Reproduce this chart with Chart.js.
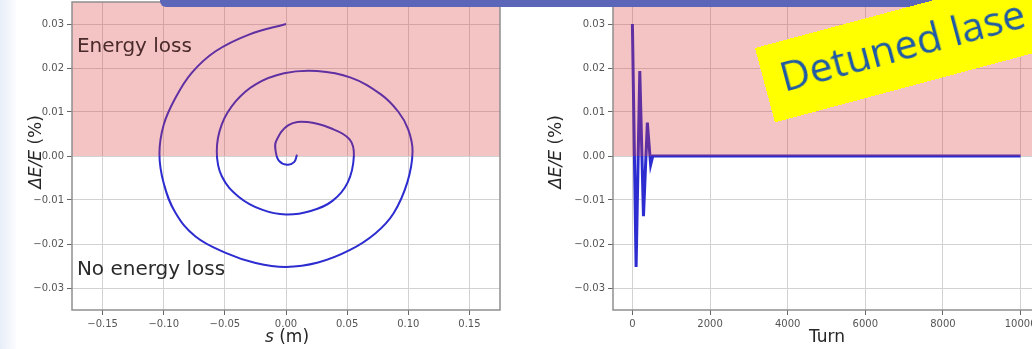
<!DOCTYPE html>
<html>
<head>
<meta charset="utf-8">
<script src="https://cdn.jsdelivr.net/npm/chart.js"></script>
<style>
    html, body { margin: 0; padding: 0; width: 1032px; height: 349px; overflow: hidden; background: #fff; }
    #strip { position: absolute; left: 0; top: 0; width: 16px; height: 349px; background: linear-gradient(to right, #e8eef8, #fbfcfe); }
    #cLeft { position: absolute; left: 0; top: 0; }
    #cRight { position: absolute; left: 516px; top: 0; }
    #bar { position: absolute; left: 160px; top: -6px; width: 900px; height: 13px; background: #5c66b8; border-radius: 6px; }
    #tag { position: absolute; left: 755px; top: 48px; width: 420px; height: 77px; background: #ffff00;
           transform-origin: 0 0; transform: rotate(-15deg); }
    #tag span { position: absolute; left: 17px; top: 14px; font: 41px/1 "Open Sans", sans-serif; color: #1f5aa6; white-space: nowrap; }
</style>
</head>
<body>
<div id="strip"></div>
<canvas id="cLeft" width="516" height="349"></canvas>
<canvas id="cRight" width="540" height="349"></canvas>
<div id="bar"></div>
<div id="tag"><span>Detuned lase</span></div>

<script>
// Longitudinal phase space spiral
const spiralS  = [0.0000, -0.0303, -0.0576, -0.0771, -0.0904, -0.1000, -0.1035, -0.1000, -0.0904, -0.0740,
                  -0.0494, -0.0248, 0.0000, 0.0262, 0.0520, 0.0730, 0.0880, 0.0992, 0.1035, 0.1000,
                  0.0920, 0.0776, 0.0530, 0.0254, -0.0016, -0.0248, -0.0412, -0.0525, -0.0566, -0.0525,
                  -0.0385, -0.0197, 0.0000, 0.0202, 0.0380, 0.0505, 0.0555, 0.0520, 0.0366, 0.0175,
                  0.0020, -0.0082, -0.0084, -0.0057, 0.0008, 0.0066, 0.0090];
const spiralDE = [0.0300, 0.0276, 0.0238, 0.0189, 0.0132, 0.0071, 0.0005, -0.0062, -0.0129, -0.0183,
                  -0.0220, -0.0243, -0.0252, -0.0242, -0.0214, -0.0176, -0.0130, -0.0060, 0.0010, 0.0060,
                  0.0100, 0.0140, 0.0178, 0.0193, 0.0188, 0.0163, 0.0124, 0.0072, 0.0011, -0.0046,
                  -0.0093, -0.0122, -0.0133, -0.0125, -0.0102, -0.0060, 0.0000, 0.0038, 0.0063, 0.0077,
                  0.0070, 0.0033, 0.0010, -0.0011, -0.0020, -0.0014, 0.0003];

// Energy deviation against turn number, right panel
const turns  = [0, 95, 190, 285, 385, 470, 525, 10000];
const turnDE = [0.0300, -0.0252, 0.0193, -0.0137, 0.0076, -0.0020, 0.0000, 0.0000];

// Tick values and labels
const yTicks      = [-0.03, -0.02, -0.01, 0, 0.01, 0.02, 0.03];
const yTickLabels = ['\u22120.03', '\u22120.02', '\u22120.01', '0.00', '0.01', '0.02', '0.03'];
const sTicks      = [-0.15, -0.10, -0.05, 0, 0.05, 0.10, 0.15];
const sTickLabels = ['\u22120.15', '\u22120.10', '\u22120.05', '0.00', '0.05', '0.10', '0.15'];
const turnTicks      = [0, 2000, 4000, 6000, 8000, 10000];
const turnTickLabels = ['0', '2000', '4000', '6000', '8000', '10000'];

const FONT = '"DejaVu Sans", sans-serif';
const LINE = '#2c2cd0';

function toPoints(xs, ys) {
    return xs.map((v, i) => ({ x: v, y: ys[i] }));
}

// draw a label made of parts with different font styles, centred on (cx, cy)
function drawMixed(ctx, parts, cx, cy, rotate) {
    ctx.save();
    ctx.translate(cx, cy);
    if (rotate) ctx.rotate(-Math.PI / 2);
    const widths = parts.map(p => { ctx.font = p.font; return ctx.measureText(p.t).width; });
    let x = -widths.reduce((a, b) => a + b, 0) / 2;
    ctx.textBaseline = 'middle';
    ctx.fillStyle = '#262626';
    parts.forEach((p, i) => { ctx.font = p.font; ctx.fillText(p.t, x, 0); x += widths[i]; });
    ctx.restore();
}

const yLabelParts = [
    { t: '\u0394E/E', font: 'italic 17px ' + FONT },
    { t: ' (%)', font: '17px ' + FONT }
];

const decor = {
    id: 'decor',
    afterDatasetsDraw(chart, args, opts) {
        const { ctx, chartArea: a, scales: { x, y } } = chart;
        ctx.save();
        // energy-loss band above zero
        const y0 = y.getPixelForValue(0);
        ctx.fillStyle = 'rgba(220, 60, 60, 0.3)';
        ctx.fillRect(a.left, a.top, a.right - a.left, y0 - a.top);
        ctx.font = '20px ' + FONT;
        (opts.notes || []).forEach(n => {
            ctx.fillStyle = n.color;
            ctx.fillText(n.text, x.getPixelForValue(n.x), y.getPixelForValue(n.y));
        });
        ctx.strokeStyle = '#8f8f8f';
        ctx.lineWidth = 1.5;
        ctx.strokeRect(a.left, a.top, a.right - a.left, a.bottom - a.top);
        ctx.restore();
    },
    afterDraw(chart, args, opts) {
        drawMixed(chart.ctx, yLabelParts, opts.yLabelX, 152, true);
        drawMixed(chart.ctx, opts.xLabel, opts.xLabelX, 338, false);
    }
};

function axis(min, max, ticks, labels, fit) {
    return {
        type: 'linear',
        min: min,
        max: max,
        afterBuildTicks: s => { s.ticks = ticks.map(v => ({ value: v })); },
        afterFit: fit,
        ticks: {
            autoSkip: false,
            maxRotation: 0,
            padding: 3,
            color: '#555',
            font: { family: FONT, size: 10 },
            callback: (v, i) => labels[i]
        },
        grid: { color: '#d2d2d2', lineWidth: 1, tickLength: 5, tickColor: '#666' },
        border: { display: false }
    };
}

function makeChart(id, points, xAxis, yWidth, padRight, tension, width, decorOpts) {
    return new Chart(document.getElementById(id), {
        type: 'scatter',
        data: {
            datasets: [{
                data: points,
                showLine: true,
                borderColor: LINE,
                borderWidth: width,
                pointRadius: 0,
                tension: tension
            }]
        },
        options: {
            responsive: false,
            animation: false,
            layout: { padding: { left: 0, right: padRight, top: 2, bottom: 0 } },
            plugins: { legend: { display: false }, tooltip: { enabled: false }, decor: decorOpts },
            scales: {
                x: xAxis,
                y: axis(-0.035, 0.035, yTicks, yTickLabels, s => {
                    s.width = yWidth; s.paddingTop = 0; s.paddingBottom = 0;
                })
            }
        },
        plugins: [decor]
    });
}

const xFit = s => { s.height = 39; s.paddingLeft = 0; s.paddingRight = 0; };

makeChart('cLeft', toPoints(spiralS, spiralDE),
    axis(-0.175, 0.175, sTicks, sTickLabels, xFit), 72, 16, 0.4, 2, {
        notes: [
            { text: 'Energy loss', x: -0.171, y: 0.0237, color: '#4a2a2a' },
            { text: 'No energy loss', x: -0.171, y: -0.0271, color: '#2a2a2a' }
        ],
        yLabelX: 37,
        xLabelX: 287,
        xLabel: [{ t: 's', font: 'italic 17px ' + FONT }, { t: ' (m)', font: '17px ' + FONT }]
    });

makeChart('cRight', toPoints(turns, turnDE),
    axis(-500, 10500, turnTicks, turnTickLabels, xFit), 97, 16, 0, 3, {
        notes: [],
        yLabelX: 41,
        xLabelX: 311,
        xLabel: [{ t: 'Turn', font: '17px ' + FONT }]
    });
</script>
</body>
</html>
